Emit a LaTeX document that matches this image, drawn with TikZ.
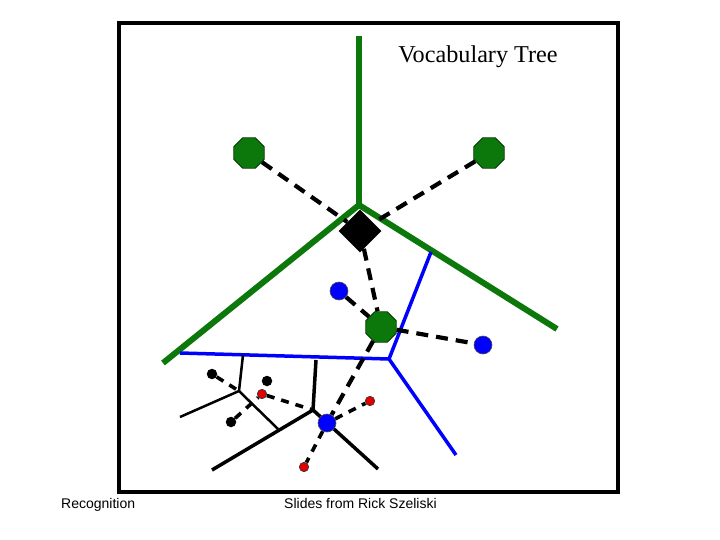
\documentclass[tikz,border=0pt]{standalone}
\usepackage{fontspec}
\setmainfont{Liberation Serif}
\setsansfont{Liberation Sans}
\usetikzlibrary{shapes.geometric}
\definecolor{tgreen}{RGB}{12,120,12}
\definecolor{tdgreen}{RGB}{0,60,0}
\definecolor{tblue}{RGB}{0,0,255}
\definecolor{tred}{RGB}{225,0,0}
\tikzset{
  octa/.style={regular polygon, regular polygon sides=8, minimum size=33pt, inner sep=0pt, fill=tgreen, draw=tdgreen, line width=0.8pt},
  bdot/.style={circle, minimum size=18pt, inner sep=0pt, fill=tblue, draw=black!70, line width=0.6pt},
  rdot/.style={circle, minimum size=9.5pt, inner sep=0pt, fill=tred, draw=black!80, line width=0.6pt},
  kdot/.style={circle, minimum size=10.5pt, inner sep=0pt, fill=black},
  gline/.style={tgreen, line width=6pt},
  bline/.style={tblue, line width=3.5pt},
  kline/.style={black, line width=3.5pt},
  bigdash/.style={black, line width=4.2pt, dash pattern=on 12pt off 8pt},
  smalldash/.style={black, line width=3.6pt, dash pattern=on 8pt off 7pt},
}
\begin{document}
\begin{tikzpicture}[x=1pt,y=-1pt]
\useasboundingbox (0,0) rectangle (720,540);
\draw[line width=4pt] (119,23) rectangle (618,492);
\node[anchor=base, font=\fontsize{24.2}{29}\selectfont] (title) at (478,63) {Vocabulary Tree};
\node[anchor=base west, font=\sffamily\fontsize{14}{16}\selectfont, inner sep=0pt] (rec) at (61,508) {Recognition};
\node[anchor=base west, font=\sffamily\fontsize{14}{16}\selectfont, inner sep=0pt] (sli) at (284,508) {Slides from Rick Szeliski};
% coordinates
\coordinate (gT) at (359,36);
\coordinate (gc) at (359,205);
\coordinate (gL) at (163,363);
\coordinate (gR) at (557,329);
\coordinate (bL) at (180,353);
\coordinate (bc) at (389,359);
\coordinate (bU) at (431,252);
\coordinate (bD) at (456,455);
\coordinate (j1a) at (243,355);
\coordinate (j1) at (239,391);
\coordinate (j1b) at (180,417);
\coordinate (j3) at (278,429);
\coordinate (j2a) at (316,360);
\coordinate (j2) at (313,410);
\coordinate (jL) at (212,470);
\coordinate (jR) at (378,469);
% green lines
\draw[gline] (gT) -- (gc);
\draw[gline] (gL) -- (gc) -- (gR);
% blue lines
\draw[bline] (bL) -- (bc);
\draw[bline] (bU) -- (bc) -- (bD);
% black lines
\draw[black, line width=2.5pt] (j1a) -- (j1);
\draw[black, line width=2.5pt] (j1b) -- (j1) -- (j3);
\draw[kline] (j2a) -- (j2);
\draw[kline] (jL) -- (j2) -- (jR);
% nodes
\node[octa] (o1) at (249,153) {};
\node[octa] (o2) at (489,153) {};
\node[octa] (o3) at (381,327) {};
\node[diamond, minimum size=43pt, inner sep=0pt, fill=black] (d) at (360,231) {};
\node[bdot] (b1) at (339,291) {};
\node[bdot] (b2) at (483,345) {};
\node[bdot] (b3) at (327,423) {};
\node[kdot] (k1) at (212,374) {};
\node[kdot] (k2) at (267,381) {};
\node[kdot] (k3) at (231,422) {};
\node[rdot] (r1) at (262,394) {};
\node[rdot] (r2) at (370,401) {};
\node[rdot] (r3) at (304,467) {};
% dashed connectors
\draw[bigdash] (o1) -- (d);
\draw[bigdash] (o2) -- (d);
\draw[bigdash] (d) -- (o3);
\draw[bigdash] (b1) -- (o3);
\draw[bigdash] (o3) -- (b2);
\draw[bigdash] (o3) -- (b3);
\draw[smalldash] (b3) -- (r2);
\draw[smalldash] (b3) -- (r3);
\draw[smalldash] (k1) -- (j1);
\draw[smalldash] (k3) -- (r1);
\draw[smalldash] (r1) -- (j2);
\end{tikzpicture}
\end{document}
